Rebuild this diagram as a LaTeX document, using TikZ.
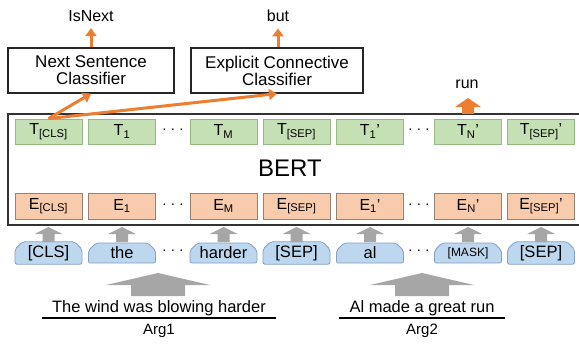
\documentclass[tikz,border=0pt]{standalone}
\usepackage{fontspec}
\setmainfont{Liberation Sans}
\usetikzlibrary{arrows.meta,shapes.misc}

\definecolor{accent}{RGB}{237,125,49}
\definecolor{tfill}{RGB}{197,224,180}
\definecolor{tline}{RGB}{150,185,130}
\definecolor{efill}{RGB}{248,203,173}
\definecolor{eline}{RGB}{150,130,115}
\definecolor{wfill}{RGB}{189,215,238}
\definecolor{wline}{RGB}{130,160,200}
\definecolor{arrowgray}{RGB}{166,166,166}

\tikzset{
	fnt/.style={font=\fontsize{#1}{#1}\selectfont},
	tbox/.style={draw=tline, fill=tfill, line width=0.8pt, minimum width=67pt, minimum height=25pt, inner sep=0pt, fnt=16},
	ebox/.style={draw=eline, fill=efill, line width=0.8pt, minimum width=67pt, minimum height=26pt, inner sep=0pt, fnt=16},
	wbox/.style={chamfered rectangle, chamfered rectangle corners={north east, north west}, chamfered rectangle xsep=4pt, rounded corners=2pt, draw=wline, fill=wfill, line width=0.8pt, minimum width=67pt, minimum height=20pt, inner sep=0pt, fnt=16.5},
	clsbox/.style={draw=black!85, line width=1.3pt, minimum width=166pt, minimum height=45pt, align=center, inner sep=0pt, fnt=17},
	outarrow/.style={draw=accent, line width=3pt, -{Triangle[length=8pt,width=11pt]}},
	pics/upblock/.style args={#1/#2/#3/#4}{code={\fill (0,0) -- (#1,#2) -- (#3,#2) -- (#3,#4) -- (-#3,#4) -- (-#3,#2) -- (-#1,#2) -- cycle;}}
}

\begin{document}
\begin{tikzpicture}[x=1pt, y=-1pt]
	\useasboundingbox (0,0) rectangle (579,345);

	% BERT frame
	\draw[line width=1.5pt, black!80] (582,114) -- (8,114) -- (8,225) -- (582,225);
	\node[fnt=24] (bert) at (290,168) {BERT};

	% columns
	\foreach \c/\x/\tl/\el/\wl in {
		1/48.5/{T\textsubscript{[CLS]}}/{E\textsubscript{[CLS]}}/{[CLS]},
		2/122/{T\textsubscript{1}}/{E\textsubscript{1}}/{the},
		3/223.5/{T\textsubscript{M}}/{E\textsubscript{M}}/{harder},
		4/296.5/{T\textsubscript{[SEP]}}/{E\textsubscript{[SEP]}}/{[SEP]},
		5/370/{T\textsubscript{1}'}/{E\textsubscript{1}'}/{al},
		6/468/{T\textsubscript{N}'}/{E\textsubscript{N}'}/{{\fontsize{12}{12}\selectfont[MASK]}},
		7/541/{T\textsubscript{[SEP]}'}/{E\textsubscript{[SEP]}'}/{[SEP]}} {
		\node[tbox] (t\c) at (\x,131.5) {\tl};
		\node[ebox] (e\c) at (\x,206) {\el};
		\node[wbox] (w\c) at (\x,253) {\wl};
		\pic[fill=arrowgray] at (\x,227) {upblock={14/7/6/15}};
	}
	\foreach \x/\n in {173/a, 419/b} {
		\node[fnt=14] (tdots\n) at (\x,131) {· · ·};
		\node[fnt=14] (edots\n) at (\x,206) {· · ·};
		\node[fnt=14] (wdots\n) at (\x,252) {· · ·};
	}

	% classifiers
	\node[clsbox] (nsc) at (91,70.5) {Next Sentence\\Classifier};
	\node[clsbox, minimum width=172pt] (ecc) at (277,70.5) {Explicit Connective\\Classifier};
	\node[fnt=16] (isnext) at (91,16) {IsNext};
	\node[fnt=16] (but) at (278,16) {but};
	\node[fnt=16] (run) at (467,84) {run};

	\draw[outarrow, shorten >=3pt] (nsc.north) -- (isnext.south);
	\draw[outarrow, shorten >=3pt] (ecc.north -| but) -- (but.south);
	\draw[outarrow] (t1.north) -- (nsc.south);
	\draw[outarrow] (t1.north) -- (ecc.south);
	\pic[fill=accent] at (468,98) {upblock={13/9/6/16}};

	% input sentences
	\pic[fill=arrowgray] at (158,273) {upblock={52/12/27/23}};
	\pic[fill=arrowgray] at (422,273) {upblock={52/12/27/23}};
	\node[fnt=16.5, inner xsep=10pt, inner ysep=2pt] (arg1s) at (159,308) {The wind was blowing harder};
	\node[fnt=16.5, inner xsep=10pt, inner ysep=2pt] (arg2s) at (422,308) {Al made a great run};
	\draw[line width=1.5pt] (arg1s.south west) -- (arg1s.south east);
	\draw[line width=1.5pt] (arg2s.south west) -- (arg2s.south east);
	\node[fnt=15] (arg1) at (159,331) {Arg1};
	\node[fnt=15] (arg2) at (422,331) {Arg2};
\end{tikzpicture}
\end{document}
